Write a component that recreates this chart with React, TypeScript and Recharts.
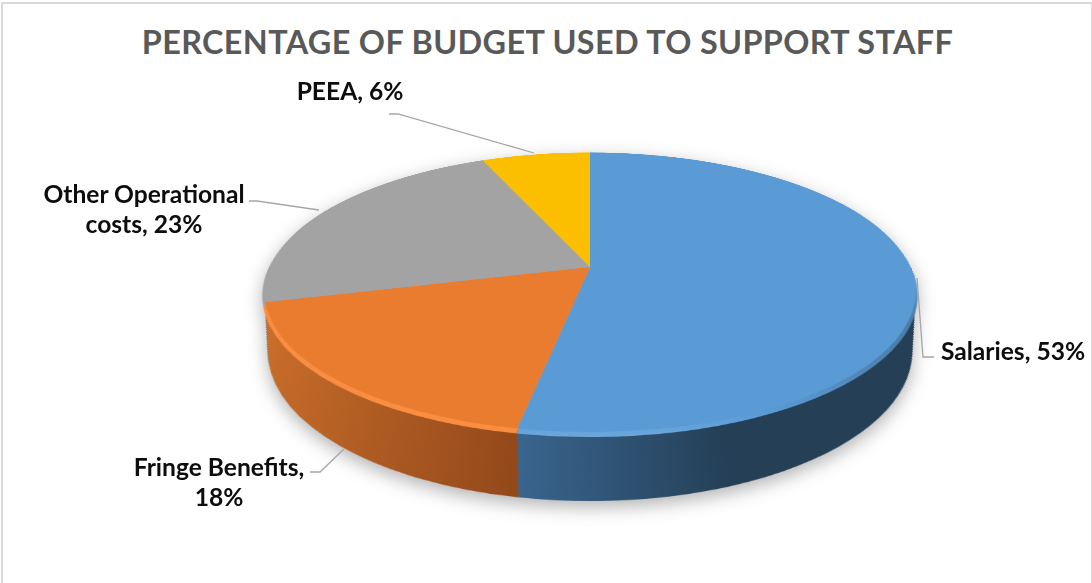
import { Cell, Pie, PieChart } from "recharts";

const categories = ["Salaries", "Fringe Benefits", "Other Operational costs", "PEEA"];
const shares = [53, 18, 22.6, 6.4];
const topColors = ["#5b9bd5", "#ea7c30", "#a3a3a3", "#fcbf00"];
const rimColors = ["url(#blueRim)", "#f98d42", "#a3a3a3", "#fcbf00"];
const wallColors = ["url(#blueWall)", "url(#orangeWall)", "#7c7c7c", "#bf9000"];

const data = categories.map((name, i) => ({ name, value: shares[i] }));

const labels = [
  { lines: ["PEEA, 6%"], x: 350, y: 91 },
  { lines: ["Other Operational", "costs, 23%"], x: 144, y: 194 },
  { lines: ["Fringe Benefits,", "18%"], x: 219, y: 467 },
  { lines: ["Salaries, 53%"], x: 1013, y: 351 },
];
const leaders = [
  "389,114 398,114 534,153",
  "249,201 257,201 319,210",
  "310,472 320,472 344,449",
  "917,278 923,357 934,357",
];

// steps of the extruded side, from bottom face up to the top face
const wallSteps = Array.from({ length: 60 }, (_, i) => 1 - i / 60);
const FONT = "Lato, Carlito, sans-serif";
const SIZE = 900;
const C = 400;
const R = 320;

export default function App() {
  return (
    <div
      style={{
        position: "fixed",
        left: 0,
        top: 0,
        width: 1092,
        height: 583,
        background: "#fff",
        overflow: "hidden",
        fontFamily: FONT,
      }}
    >
      <div
        style={{
          position: "absolute",
          left: 1,
          top: 2,
          width: 1088,
          height: 579,
          border: "2px solid #d9d9d9",
        }}
      />
      <div
        style={{
          position: "absolute",
          left: 0,
          top: 19,
          width: 1095,
          textAlign: "center",
          fontSize: 32.4,
          lineHeight: "46px",
          fontWeight: 700,
          color: "#595959",
          letterSpacing: 0.35,
          whiteSpace: "nowrap",
        }}
      >
        PERCENTAGE OF BUDGET USED TO SUPPORT STAFF
      </div>

      <div style={{ position: "absolute", left: 0, top: 0, filter: "drop-shadow(0 6px 9px rgba(0,0,0,0.3))" }}>
        <div
          style={{
            position: "absolute",
            left: 590 - C,
            top: 267 - C,
            width: SIZE,
            height: SIZE,
            transformOrigin: `${C}px ${C}px`,
            transform: "perspective(1606px) rotateX(65deg)",
          }}
        >
          <PieChart width={SIZE} height={SIZE} margin={{ top: 0, right: 0, bottom: 0, left: 0 }}>
            <defs>
              <linearGradient id="blueWall" gradientUnits="userSpaceOnUse" x1={C - 62} y1="0" x2={C + 110} y2="0">
                <stop offset="0%" stopColor="#3a6690" />
                <stop offset="100%" stopColor="#243f56" />
              </linearGradient>
              <linearGradient id="orangeWall" gradientUnits="userSpaceOnUse" x1={C - 320} y1="0" x2={C - 60} y2="0">
                <stop offset="0%" stopColor="#cf722c" />
                <stop offset="100%" stopColor="#94491b" />
              </linearGradient>
              <linearGradient id="blueRim" gradientUnits="userSpaceOnUse" x1="0" y1={C + 40} x2="0" y2={C + 326}>
                <stop offset="0%" stopColor="#5b9bd5" />
                <stop offset="28%" stopColor="#4a7aa6" />
                <stop offset="62%" stopColor="#4f86b8" />
                <stop offset="88%" stopColor="#5b9bd5" />
                <stop offset="100%" stopColor="#6ba6dd" />
              </linearGradient>
            </defs>
            {wallSteps.map((t) => (
              <Pie
                key={t}
                data={data}
                dataKey="value"
                cx={C}
                cy={C + 128 * t}
                outerRadius={R - 26 * t}
                startAngle={90}
                endAngle={-270}
                stroke="none"
                isAnimationActive={false}
              >
                {data.map((d, i) => (
                  <Cell key={d.name} fill={wallColors[i]} />
                ))}
              </Pie>
            ))}
            <Pie
              data={data}
              dataKey="value"
              cx={C}
              cy={C + 7}
              outerRadius={R + 1}
              startAngle={90}
              endAngle={-270}
              stroke="none"
              isAnimationActive={false}
            >
              {data.map((d, i) => (
                <Cell key={d.name} fill={rimColors[i]} />
              ))}
            </Pie>
            <Pie
              data={data}
              dataKey="value"
              cx={C}
              cy={C}
              outerRadius={R}
              startAngle={90}
              endAngle={-270}
              stroke="none"
              isAnimationActive={false}
            >
              {data.map((d, i) => (
                <Cell key={d.name} fill={topColors[i]} />
              ))}
            </Pie>
          </PieChart>
        </div>
      </div>

      <svg width={1092} height={583} style={{ position: "absolute", left: 0, top: 0 }}>
        {leaders.map((points) => (
          <polyline key={points} points={points} fill="none" stroke="#a6a6a6" strokeWidth={1.3} />
        ))}
      </svg>

      {labels.map((label) =>
        label.lines.map((line, i) => (
          <div
            key={line}
            style={{
              position: "absolute",
              left: label.x - 150,
              top: label.y - 15 + i * 30,
              width: 300,
              height: 30,
              lineHeight: "30px",
              textAlign: "center",
              fontSize: 24.6,
              fontWeight: 700,
              color: "#0d0d0d",
              whiteSpace: "nowrap",
            }}
          >
            {line}
          </div>
        ))
      )}
    </div>
  );
}
